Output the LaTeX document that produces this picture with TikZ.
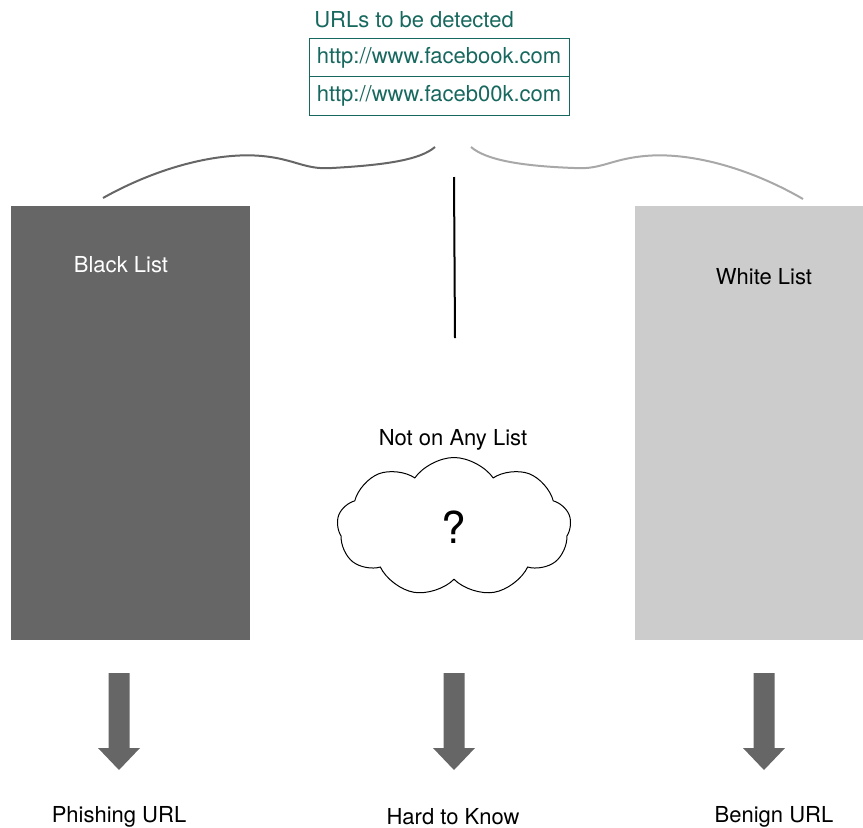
\documentclass[tikz,border=0pt]{standalone}
\usepackage{fontspec}
\setmainfont{TeX Gyre Heros}
\usetikzlibrary{shapes.symbols}

\definecolor{urlteal}{RGB}{23,104,94}
\definecolor{blackgray}{RGB}{102,102,102}
\definecolor{whitegray}{RGB}{204,204,204}
\definecolor{lightline}{RGB}{168,168,168}

\tikzset{
  lbl/.style={font=\fontsize{22}{26}\selectfont, inner sep=0pt},
  urlbox/.style={lbl, draw=urlteal, text=urlteal, line width=1pt,
    minimum width=260pt, minimum height=38.5pt},
  listbox/.style={minimum width=239pt, minimum height=434pt, inner sep=0pt},
  blockarrow/.style={fill=blackgray}
}

\begin{document}
\begin{tikzpicture}[x=1pt, y=-1pt]
  \useasboundingbox (0,0) rectangle (863,828);

  % URLs to check
  \node[lbl, text=urlteal] (urltitle) at (414,20) {URLs to be detected};
  \node[urlbox] (url1) at (439,57.5) {http://www.facebook.com};
  \node[urlbox] (url2) at (439,96) {http://www.faceb00k.com};

  % Split into three branches
  \draw[blackgray, line width=2pt] (103,198) .. controls (160,166) and (220,152) .. (262,156)
    .. controls (295,159) and (305,170) .. (332,168)
    .. controls (385,165) and (420,160) .. (435,147);
  \draw[lightline, line width=2pt] (471,147) .. controls (486,160) and (521,166) .. (574,168)
    .. controls (601,170) and (611,159) .. (645,156)
    .. controls (687,152) and (746,166) .. (803,199);
  \draw[black, line width=2pt] (454,177) -- (455,338);

  % The two lists
  \node[listbox, fill=blackgray] (blacklist) at (130.5,423) {};
  \node[lbl, text=white] (blacklbl) at (121,265) {Black List};
  \node[listbox, fill=whitegray, minimum width=228pt] (whitelist) at (749,423) {};
  \node[lbl] (whitelbl) at (764,277) {White List};

  % Neither list
  \node[lbl] (nolist) at (453,440) {Not on Any List};
  \node[cloud, draw, line width=1pt, cloud puffs=9, cloud puff arc=110, aspect=1.7,
    minimum width=234pt, minimum height=139pt, inner sep=0pt,
    font=\fontsize{44}{50}\selectfont] (unknown) at (454,527) {?};

  % Outcomes
  \foreach \x/\lx/\name/\txt in {119/119/phish/Phishing URL, 454/453/hard/Hard to Know, 764/774/benign/Benign URL} {
    \fill[blockarrow] (\x-10.5,673) -- (\x+10.5,673) -- (\x+10.5,748) -- (\x+21,748)
      -- (\x,770) -- (\x-21,748) -- (\x-10.5,748) -- cycle;
    \node[lbl] (\name) at (\lx,817) {\txt};
  }
\end{tikzpicture}
\end{document}
